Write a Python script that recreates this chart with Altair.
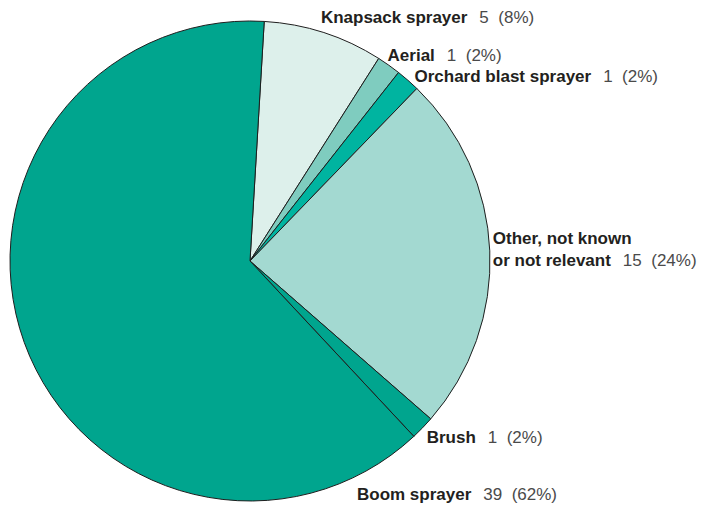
import math
import altair as alt
import pandas as pd

# ---- data ----
categories = ["Knapsack sprayer", "Aerial", "Orchard blast sprayer",
              "Other, not known or not relevant", "Brush", "Boom sprayer"]
counts = [5, 1, 1, 15, 1, 39]
percents = [8, 2, 2, 24, 2, 62]
label_lines = [["Knapsack sprayer"], ["Aerial"], ["Orchard blast sprayer"],
               ["Other, not known", "or not relevant"], ["Brush"], ["Boom sprayer"]]
colors = ["#ddf0eb", "#7fccbf", "#00b4a0", "#a3d9d1", "#00a58e", "#00a58e"]

# ---- layout / style ----
W, H = 484, 474
CX, CY = W / 2, H / 2
R = 240
START = math.radians(3.4)
FONT = "Liberation Sans, Arial, Helvetica, sans-serif"
FS = 17
LINE_H = 22
LABEL_R = 250
# small nudges of label anchors (dx, dy) and an override for Boom label angle
nudges = {
    "Knapsack sprayer": dict(dx=-6, dy=-6),
    "Aerial": dict(dx=-7, dy=-2),
    "Orchard blast sprayer": dict(dx=0, dy=3),
    "Other, not known or not relevant": dict(dx=-7, dy=-2),
    "Brush": dict(dx=-3, dy=2),
    "Boom sprayer": dict(dx=0, dy=0, angle=155.3, r=256),
}

# Helvetica/Arial bold advance widths (per 1000 em) for width estimate
BOLD_W = {" ": 278, ",": 278, "A": 722, "B": 722, "K": 722, "O": 778,
          "a": 556, "b": 611, "c": 556, "d": 611, "e": 556, "h": 611, "i": 278,
          "k": 556, "l": 278, "m": 889, "n": 611, "o": 611, "p": 611, "r": 389,
          "s": 556, "t": 333, "u": 611, "v": 556, "w": 778, "y": 556}


def bold_width(s):
    return sum(BOLD_W.get(ch, 600) for ch in s) * FS / 1000.0


pie_df = pd.DataFrame({"category": categories, "count": counts,
                       "idx": list(range(len(categories)))})

total = sum(counts)
name_rows, num_rows = [], []
cum = 0
for cat, c, p, lines in zip(categories, counts, percents, label_lines):
    mid = START + (cum + c / 2) / total * 2 * math.pi
    cum += c
    nd = nudges[cat]
    ang = math.radians(nd["angle"]) if "angle" in nd else mid
    r = nd.get("r", LABEL_R)
    ax = CX + r * math.sin(ang) + nd["dx"]
    ay = CY - r * math.cos(ang) + nd["dy"]
    n = len(lines)
    for i, ln in enumerate(lines):
        base_y = ay + 6 + (i - (n - 1) / 2) * LINE_H
        name_rows.append({"text": ln, "x": ax, "y": base_y})
    last_y = ay + 6 + ((n - 1) - (n - 1) / 2) * LINE_H
    num_rows.append({"text": f"{c}\u00a0\u00a0({p}%)",
                     "x": ax + bold_width(lines[-1]) + 12, "y": last_y})

name_df = pd.DataFrame(name_rows)
num_df = pd.DataFrame(num_rows)

pie = alt.Chart(pie_df).mark_arc(outerRadius=R, stroke="#1e1e1e", strokeWidth=1).encode(
    theta=alt.Theta("count:Q", stack=True,
                    scale=alt.Scale(range=[START, START + 2 * math.pi])),
    color=alt.Color("category:N", scale=alt.Scale(domain=categories, range=colors),
                    legend=None),
    order=alt.Order("idx:Q", sort="ascending"),
)

names = alt.Chart(name_df).mark_text(
    align="left", baseline="alphabetic", font=FONT, fontSize=FS,
    fontWeight="bold", color="#231f20"
).encode(
    x=alt.X("x:Q", scale=None, axis=None),
    y=alt.Y("y:Q", scale=None, axis=None),
    text="text:N",
)

nums = alt.Chart(num_df).mark_text(
    align="left", baseline="alphabetic", font=FONT, fontSize=FS,
    fontWeight="normal", color="#4a4a4a"
).encode(
    x=alt.X("x:Q", scale=None, axis=None),
    y=alt.Y("y:Q", scale=None, axis=None),
    text="text:N",
)

chart = alt.layer(pie, names, nums).properties(
    width=W, height=H,
    padding={"left": 0, "top": 16, "right": 206, "bottom": 8},
    autosize=alt.AutoSizeParams(type="none"),
).configure_view(stroke=None)

chart.save("out.html", embed_options={"renderer": "svg", "actions": False})
